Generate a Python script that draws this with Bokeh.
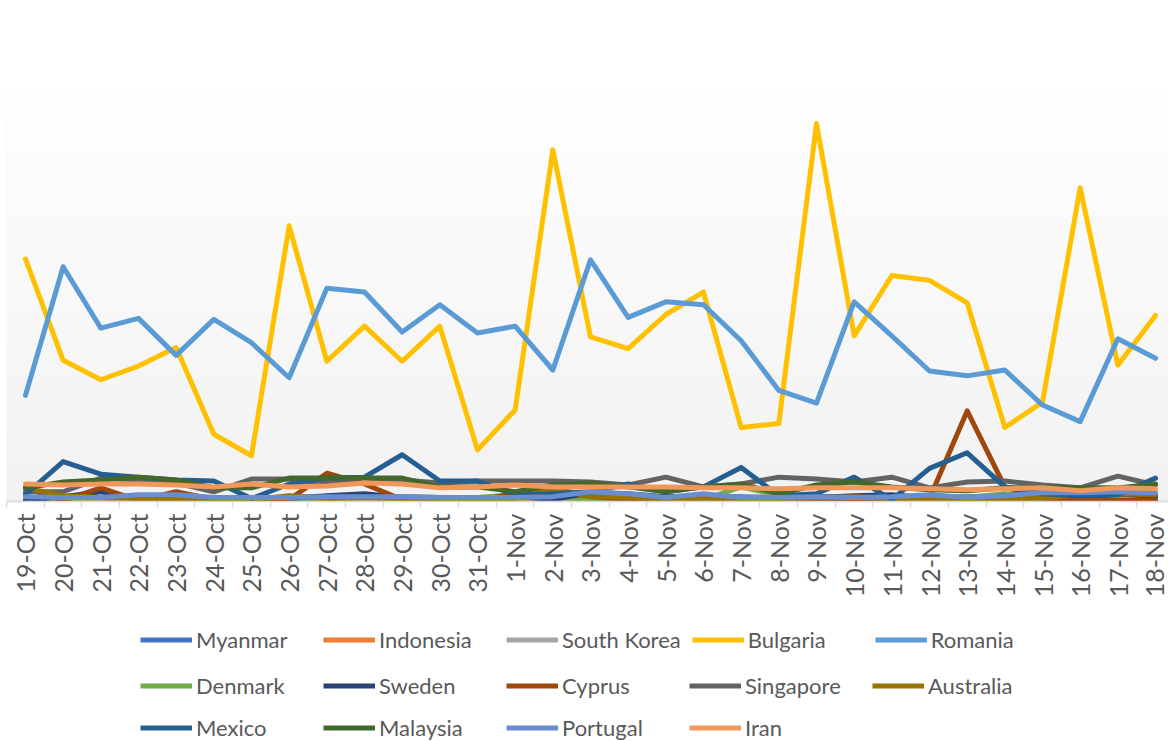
import numpy as np
from bokeh.plotting import figure
from bokeh.layouts import column
from bokeh.models import FixedTicker, Legend, LegendItem, Range1d
from bokeh.embed import file_html
from bokeh.resources import INLINE

dates = ["19-Oct", "20-Oct", "21-Oct", "22-Oct", "23-Oct", "24-Oct", "25-Oct", "26-Oct",
         "27-Oct", "28-Oct", "29-Oct", "30-Oct", "31-Oct", "1-Nov", "2-Nov", "3-Nov",
         "4-Nov", "5-Nov", "6-Nov", "7-Nov", "8-Nov", "9-Nov", "10-Nov", "11-Nov",
         "12-Nov", "13-Nov", "14-Nov", "15-Nov", "16-Nov", "17-Nov", "18-Nov"]

myanmar = [3, 4, 4, 5, 5, 4, 4, 4, 5, 5, 5, 4, 4, 4, 5, 6, 6, 5, 5, 5, 4, 5, 5, 5, 5, 5, 6, 6, 6, 6, 6]
indonesia = [1, 1, 2, 1, 1, 1, 1, 2, 1, 1, 1, 1, 1, 2, 1, 1, 1, 2, 1, 1, 1, 1, 2, 1, 1, 1, 2, 1, 1, 2, 1]
south_korea = [3, 3, 4, 3, 4, 3, 3, 4, 4, 3, 4, 3, 3, 4, 3, 4, 4, 3, 3, 4, 5, 3, 4, 4, 3, 4, 4, 6, 5, 4, 4]
bulgaria = [249, 145, 125, 139, 158, 69, 47, 283, 144, 180, 144, 180, 53, 94, 361, 169,
            157, 192, 215, 76, 80, 388, 170, 232, 227, 204, 76, 102, 322, 140, 191]
romania = [109, 241, 178, 188, 150, 187, 163, 127, 219, 215, 174, 202, 173, 180, 135, 248,
           189, 205, 202, 165, 114, 101, 205, 170, 134, 129, 135, 99, 82, 167, 147]
denmark = [2, 3, 4, 5, 2, 1, 2, 3, 3, 6, 5, 4, 4, 7, 5, 2, 3, 4, 2, 15, 6, 3, 4, 6, 5, 4, 8, 6, 2, 3, 3]
sweden = [1, 5, 10, 3, 3, 2, 2, 3, 6, 8, 4, 4, 3, 5, 2, 9, 8, 5, 6, 4, 3, 4, 6, 7, 3, 2, 6, 3, 3, 8, 5]
cyprus = [14, 1, 14, 1, 10, 2, 2, 2, 29, 18, 2, 1, 1, 8, 12, 5, 2, 2, 2, 2, 2, 3, 3, 2, 3, 93, 15, 3, 2, 1, 1]
singapore = [10, 10, 24, 22, 19, 10, 23, 23, 20, 19, 22, 19, 21, 21, 21, 20, 17, 25, 15, 18,
             25, 23, 20, 25, 14, 20, 21, 17, 14, 26, 17]
australia = [14, 6, 4, 3, 3, 2, 2, 6, 3, 4, 3, 2, 2, 3, 14, 5, 4, 3, 3, 3, 3, 4, 5, 3, 3, 3, 3, 3, 8, 8, 7]
mexico = [7, 41, 28, 25, 22, 21, 3, 18, 24, 25, 48, 21, 21, 7, 8, 10, 18, 10, 15, 35, 6, 8, 25,
          2, 34, 50, 15, 8, 6, 7, 24]
malaysia = [14, 20, 22, 25, 22, 14, 14, 24, 24, 24, 24, 15, 15, 10, 17, 19, 15, 10, 15, 18, 8,
            17, 20, 15, 12, 11, 14, 14, 14, 14, 18]
portugal = [5, 4, 4, 7, 7, 4, 4, 4, 5, 5, 5, 4, 4, 4, 5, 10, 8, 4, 8, 4, 4, 5, 4, 5, 7, 4, 6, 9, 9, 10, 9]
iran = [18, 17, 18, 18, 17, 15, 18, 15, 16, 19, 18, 14, 15, 17, 15, 15, 15, 15, 14, 14, 13, 14,
        14, 14, 13, 12, 13, 14, 11, 14, 13]

names = ["Myanmar", "Indonesia", "South Korea", "Bulgaria", "Romania", "Denmark", "Sweden",
         "Cyprus", "Singapore", "Australia", "Mexico", "Malaysia", "Portugal", "Iran"]
series = [myanmar, indonesia, south_korea, bulgaria, romania, denmark, sweden, cyprus,
          singapore, australia, mexico, malaysia, portugal, iran]
colors = ["#4472C4", "#ED7D31", "#A5A5A5", "#FFC000", "#5B9BD5", "#70AD47", "#264478",
          "#9E480E", "#636363", "#997300", "#255E91", "#43682B", "#698ED0", "#F1975A"]

X0, X1 = -0.504, 30.345
YMAX = 424
LINE_W = 5

p = figure(width=1168, height=600, output_backend="svg", toolbar_location=None,
           x_range=Range1d(X0, X1), y_range=Range1d(0, YMAX),
           y_axis_location=None,
           min_border_left=6, min_border_right=0, min_border_top=88, min_border_bottom=88)
p.outline_line_color = None
p.border_fill_color = "white"
p.background_fill_color = "#f8f8f8"

# plot-area gradient (white at top to light grey at bottom)
n = 200
g = np.linspace(242, 255, n).astype(np.uint8)
img = np.empty((n, 1), dtype=np.uint32)
view = img.view(dtype=np.uint8).reshape((n, 1, 4))
view[:, 0, 0] = g
view[:, 0, 1] = g
view[:, 0, 2] = g
view[:, 0, 3] = 255
p.image_rgba(image=[img], x=X0, y=0, dw=X1 - X0, dh=YMAX)

xs = list(range(len(dates)))
for vals, col in zip(series, colors):
    p.line(xs, vals, line_color=col, line_width=LINE_W, line_join="round", line_cap="round")

ticker = FixedTicker(ticks=xs, minor_ticks=[i - 0.5 for i in range(len(dates) + 1)])
ax = p.xaxis[0]
ax.ticker = ticker
ax.major_label_overrides = {i: d for i, d in enumerate(dates)}
ax.major_label_orientation = np.pi / 2
ax.major_tick_line_color = None
ax.major_tick_out = 0
ax.major_tick_in = 0
ax.minor_tick_line_color = "#d9d9d9"
ax.minor_tick_line_width = 1.5
ax.minor_tick_out = 6
ax.minor_tick_in = 0
ax.axis_line_color = "#d9d9d9"
ax.axis_line_width = 1.5
ax.major_label_standoff = 6
ax.major_label_text_color = "#595959"
ax.major_label_text_font = "Lato"
ax.major_label_text_font_size = "25px"

p.xgrid.grid_line_color = "#d9d9d9"
p.xgrid.grid_line_width = 1.5
p.ygrid.visible = False

# legend strip below the chart (legend-only figure; hidden proxies carry the series styles)
lf = figure(width=1168, height=141, output_backend="svg", toolbar_location=None,
            x_range=Range1d(0, 1), y_range=Range1d(0, 1),
            x_axis_location=None, y_axis_location=None,
            min_border_left=0, min_border_right=0, min_border_top=0, min_border_bottom=0)
lf.outline_line_color = None
lf.xgrid.visible = False
lf.ygrid.visible = False
proxies = [lf.line(xs, vals, line_color=col, line_width=LINE_W, visible=False)
           for vals, col in zip(series, colors)]

rows = [list(range(0, 5)), list(range(5, 10)), list(range(10, 14))]
ylocs = [88, 42, 0]
for idxs, yl in zip(rows, ylocs):
    lg = Legend(items=[LegendItem(label=names[i], renderers=[proxies[i]]) for i in idxs],
                orientation="horizontal", location=(134, yl),
                glyph_width=52, glyph_height=25, label_height=25, label_width=116,
                label_standoff=4, spacing=11, padding=0, margin=0,
                border_line_color=None, background_fill_alpha=0,
                label_text_font="Lato", label_text_font_size="22px",
                label_text_color="#595959")
    lf.add_layout(lg, "center")

layout = column(p, lf, spacing=0)
open("out.html", "w").write(file_html(layout, INLINE))
